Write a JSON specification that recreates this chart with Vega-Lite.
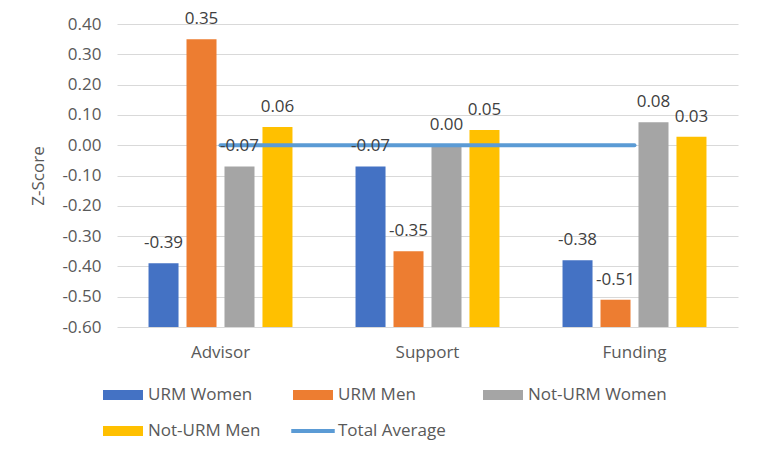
{
  "$schema": "https://vega.github.io/schema/vega-lite/v6.json",
  "width": 621,
  "height": 303,
  "autosize": {"type": "none"},
  "padding": {"left": 117, "top": 24, "right": 24, "bottom": 131},
  "background": "white",
  "config": {
    "font": "Open Sans",
    "view": {"stroke": null},
    "locale": {"number": {"decimal": ".", "thousands": ",", "grouping": [3], "currency": ["$", ""], "minus": "-"}},
    "axis": {"labelFont": "Open Sans", "labelFontSize": 17, "labelColor": "#595959", "titleFont": "Open Sans", "titleFontSize": 17, "titleFontWeight": "normal", "titleColor": "#595959", "ticks": false, "domain": false, "labelOverlap": false},
    "legend": {"labelFont": "Open Sans", "labelFontSize": 17, "labelColor": "#595959"}
  },
  "datasets": {
    "bars": [
      {"category": "Advisor", "series": "URM Women", "value": -0.39},
      {"category": "Advisor", "series": "URM Men", "value": 0.35},
      {"category": "Advisor", "series": "Not-URM Women", "value": -0.07},
      {"category": "Advisor", "series": "Not-URM Men", "value": 0.06},
      {"category": "Support", "series": "URM Women", "value": -0.07},
      {"category": "Support", "series": "URM Men", "value": -0.35},
      {"category": "Support", "series": "Not-URM Women", "value": 0.0},
      {"category": "Support", "series": "Not-URM Men", "value": 0.05},
      {"category": "Funding", "series": "URM Women", "value": -0.38},
      {"category": "Funding", "series": "URM Men", "value": -0.51},
      {"category": "Funding", "series": "Not-URM Women", "value": 0.076},
      {"category": "Funding", "series": "Not-URM Men", "value": 0.028}
    ],
    "avg": [
      {"category": "Advisor", "series": "Total Average", "value": 0},
      {"category": "Support", "series": "Total Average", "value": 0},
      {"category": "Funding", "series": "Total Average", "value": 0}
    ]
  },
  "layer": [
    {
      "data": {"name": "bars"},
      "mark": {"type": "bar"},
      "encoding": {
        "x": {"field": "category", "type": "nominal", "sort": ["Advisor", "Support", "Funding"], "scale": {"paddingInner": 0, "paddingOuter": 0}, "axis": {"title": null, "labelAngle": 0, "labelPadding": 17, "grid": false}},
        "xOffset": {"field": "series", "type": "nominal", "sort": ["URM Women", "URM Men", "Not-URM Women", "Not-URM Men"], "scale": {"paddingInner": 0.21, "paddingOuter": 0.83}},
        "y": {"field": "value", "type": "quantitative", "scale": {"domain": [-0.6, 0.4], "nice": false, "zero": false}, "axis": {"tickCount": 10, "format": ".2f", "title": "Z-Score", "labelOverlap": false, "labelPadding": 16, "titlePadding": 14, "grid": true, "gridColor": "#d9d9d9", "gridWidth": 1}},
        "y2": {"datum": -0.6},
        "color": {
          "field": "series", "type": "nominal",
          "scale": {"domain": ["URM Women", "URM Men", "Not-URM Women", "Not-URM Men", "Total Average"], "range": ["#4472C4", "#ED7D31", "#A5A5A5", "#FFC000", "#5B9BD5"]},
          "legend": {
            "title": null, "orient": "none", "legendX": -9, "legendY": 356, "direction": "horizontal", "columns": 3, "gridAlign": "all", "columnPadding": 4, "rowPadding": 13, "padding": 0, "symbolSize": 900, "labelOffset": 10, "labelLimit": 300,
            "encode": {"symbols": {"update": {
              "shape": {"signal": "datum.value === 'Total Average' ? 'M-1.45,-0.14H1.45V0.14H-1.45Z' : 'M-1.333,-0.333H1.333V0.333H-1.333Z'"},
              "fill": {"scale": "color", "field": "value"},
              "strokeWidth": {"value": 0},
              "opacity": {"value": 1}
            }}}
          }
        }
      }
    },
    {
      "data": {"name": "avg"},
      "mark": {"type": "line", "strokeWidth": 4, "strokeCap": "round"},
      "encoding": {
        "x": {"field": "category", "type": "nominal", "sort": ["Advisor", "Support", "Funding"]},
        "y": {"field": "value", "type": "quantitative"},
        "color": {"field": "series", "type": "nominal"}
      }
    },
    {
      "data": {"name": "bars"},
      "mark": {"type": "text", "baseline": "middle", "dy": -20, "fontSize": 17, "color": "#404040", "font": "Open Sans"},
      "encoding": {
        "x": {"field": "category", "type": "nominal", "sort": ["Advisor", "Support", "Funding"]},
        "xOffset": {"field": "series", "type": "nominal", "sort": ["URM Women", "URM Men", "Not-URM Women", "Not-URM Men"]},
        "y": {"field": "value", "type": "quantitative"},
        "text": {"field": "value", "type": "quantitative", "format": ".2f"}
      }
    }
  ]
}
